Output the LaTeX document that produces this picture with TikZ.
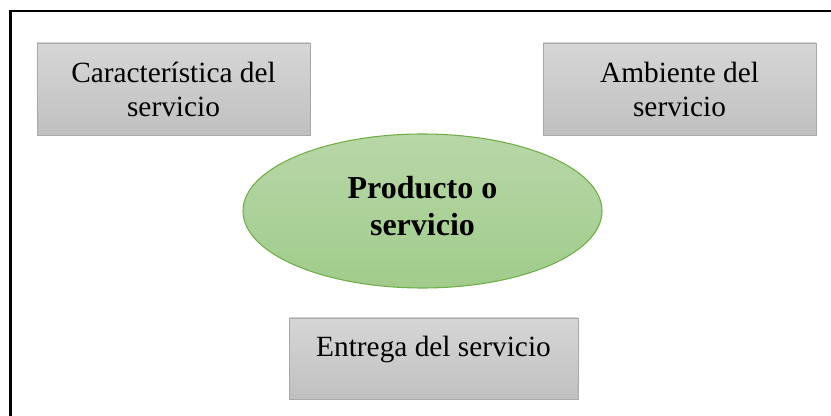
\documentclass[tikz,border=0pt]{standalone}
\usepackage{fontspec}
\setmainfont{Liberation Serif}
\usepackage{tikz}
\usetikzlibrary{shapes.geometric}
\definecolor{boxtop}{RGB}{214,214,214}
\definecolor{boxbot}{RGB}{192,192,192}
\definecolor{boxline}{RGB}{168,168,168}
\definecolor{elltop}{RGB}{184,215,168}
\definecolor{ellbot}{RGB}{160,204,139}
\definecolor{ellline}{RGB}{112,173,71}

\begin{document}
\begin{tikzpicture}[x=0.75pt,y=-0.75pt,
  greybox/.style={draw=boxline,line width=0.6pt,top color=boxtop,bottom color=boxbot,
    align=center,inner sep=0pt,font=\fontsize{22}{25.5}\selectfont},
  core/.style={draw=ellline,line width=0.8pt,ellipse,top color=elltop,bottom color=ellbot,
    align=center,inner sep=0pt,font=\fontsize{24}{27.75}\selectfont\bfseries}]
\useasboundingbox (0,0) rectangle (831,416);
\draw[line width=1.6pt] (10.5,11) rectangle (900,500);
\node[greybox,minimum width=204.75pt,minimum height=69pt] (caract) at (173.5,89) {Característica del\\servicio};
\node[greybox,minimum width=204.75pt,minimum height=69pt] (ambiente) at (679.5,89) {Ambiente del\\servicio};
\node[core,minimum width=269.25pt,minimum height=115.5pt,text depth=7.5pt] (prod) at (422.5,211) {Producto o\\servicio};
\node[greybox,minimum width=216.75pt,minimum height=60.75pt,text height=15pt,text depth=18pt] (entrega) at (433.5,358.5) {Entrega del servicio};
\end{tikzpicture}
\end{document}
